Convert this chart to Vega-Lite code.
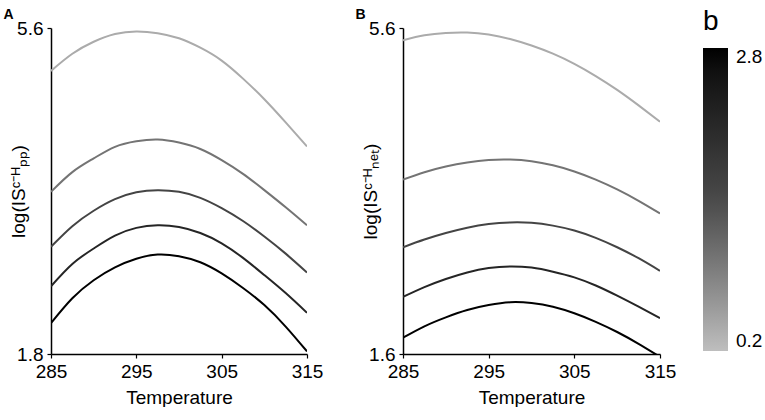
{
  "$schema": "https://vega.github.io/schema/vega-lite/v6.json",
  "padding": {"left": 3, "top": 8, "right": 0, "bottom": 0},
  "background": "white",
  "config": {
    "font": "Liberation Sans",
    "view": {"stroke": null},
    "axis": {
      "grid": false,
      "domainColor": "#000000",
      "domainWidth": 1.5,
      "tickColor": "#000000",
      "tickWidth": 1.2,
      "tickSize": 4,
      "labelFontSize": 19,
      "labelColor": "#000000",
      "labelPadding": 4,
      "labelFlush": false,
      "titleFontSize": 19,
      "titleFontWeight": "normal",
      "titleColor": "#000000"
    },
    "title": {"fontSize": 14, "fontWeight": "bold", "anchor": "start", "frame": "bounds", "color": "#000000", "offset": -3}
  },
  "datasets": {
    "pp": [
      {"T": 285, "v": 5.10, "b": 0.4}, {"T": 287.5, "v": 5.30, "b": 0.4}, {"T": 290, "v": 5.44, "b": 0.4}, {"T": 292.5, "v": 5.53, "b": 0.4},
      {"T": 295, "v": 5.56, "b": 0.4}, {"T": 297.5, "v": 5.54, "b": 0.4}, {"T": 300, "v": 5.48, "b": 0.4}, {"T": 302.5, "v": 5.37, "b": 0.4},
      {"T": 305, "v": 5.22, "b": 0.4}, {"T": 307.5, "v": 5.01, "b": 0.4}, {"T": 310, "v": 4.77, "b": 0.4}, {"T": 312.5, "v": 4.50, "b": 0.4},
      {"T": 315, "v": 4.22, "b": 0.4},
      {"T": 285, "v": 3.69, "b": 1.0}, {"T": 287.5, "v": 3.92, "b": 1.0}, {"T": 290, "v": 4.08, "b": 1.0}, {"T": 292.5, "v": 4.215, "b": 1.0},
      {"T": 295, "v": 4.28, "b": 1.0}, {"T": 297.5, "v": 4.30, "b": 1.0}, {"T": 300, "v": 4.265, "b": 1.0}, {"T": 302.5, "v": 4.19, "b": 1.0},
      {"T": 305, "v": 4.06, "b": 1.0}, {"T": 307.5, "v": 3.90, "b": 1.0}, {"T": 310, "v": 3.71, "b": 1.0}, {"T": 312.5, "v": 3.51, "b": 1.0},
      {"T": 315, "v": 3.30, "b": 1.0},
      {"T": 285, "v": 3.05, "b": 1.6}, {"T": 287.5, "v": 3.29, "b": 1.6}, {"T": 290, "v": 3.47, "b": 1.6}, {"T": 292.5, "v": 3.605, "b": 1.6},
      {"T": 295, "v": 3.685, "b": 1.6}, {"T": 297.5, "v": 3.71, "b": 1.6}, {"T": 300, "v": 3.69, "b": 1.6}, {"T": 302.5, "v": 3.62, "b": 1.6},
      {"T": 305, "v": 3.50, "b": 1.6}, {"T": 307.5, "v": 3.35, "b": 1.6}, {"T": 310, "v": 3.17, "b": 1.6}, {"T": 312.5, "v": 2.97, "b": 1.6},
      {"T": 315, "v": 2.75, "b": 1.6},
      {"T": 285, "v": 2.59, "b": 2.2}, {"T": 287.5, "v": 2.85, "b": 2.2}, {"T": 290, "v": 3.03, "b": 2.2}, {"T": 292.5, "v": 3.18, "b": 2.2},
      {"T": 295, "v": 3.27, "b": 2.2}, {"T": 297.5, "v": 3.30, "b": 2.2}, {"T": 300, "v": 3.28, "b": 2.2}, {"T": 302.5, "v": 3.21, "b": 2.2},
      {"T": 305, "v": 3.09, "b": 2.2}, {"T": 307.5, "v": 2.92, "b": 2.2}, {"T": 310, "v": 2.72, "b": 2.2}, {"T": 312.5, "v": 2.51, "b": 2.2},
      {"T": 315, "v": 2.28, "b": 2.2},
      {"T": 285, "v": 2.16, "b": 2.8}, {"T": 287.5, "v": 2.45, "b": 2.8}, {"T": 290, "v": 2.66, "b": 2.8}, {"T": 292.5, "v": 2.81, "b": 2.8},
      {"T": 295, "v": 2.91, "b": 2.8}, {"T": 297.5, "v": 2.96, "b": 2.8}, {"T": 300, "v": 2.94, "b": 2.8}, {"T": 302.5, "v": 2.87, "b": 2.8},
      {"T": 305, "v": 2.74, "b": 2.8}, {"T": 307.5, "v": 2.57, "b": 2.8}, {"T": 310, "v": 2.37, "b": 2.8}, {"T": 312.5, "v": 2.12, "b": 2.8},
      {"T": 315, "v": 1.83, "b": 2.8}
    ],
    "net": [
      {"T": 285, "v": 5.45, "b": 0.4}, {"T": 287.5, "v": 5.51, "b": 0.4}, {"T": 290, "v": 5.54, "b": 0.4}, {"T": 292.5, "v": 5.545, "b": 0.4},
      {"T": 295, "v": 5.52, "b": 0.4}, {"T": 297.5, "v": 5.465, "b": 0.4}, {"T": 300, "v": 5.385, "b": 0.4}, {"T": 302.5, "v": 5.285, "b": 0.4},
      {"T": 305, "v": 5.16, "b": 0.4}, {"T": 307.5, "v": 5.01, "b": 0.4}, {"T": 310, "v": 4.84, "b": 0.4}, {"T": 312.5, "v": 4.65, "b": 0.4},
      {"T": 315, "v": 4.45, "b": 0.4},
      {"T": 285, "v": 3.74, "b": 1.0}, {"T": 287.5, "v": 3.83, "b": 1.0}, {"T": 290, "v": 3.90, "b": 1.0}, {"T": 292.5, "v": 3.95, "b": 1.0},
      {"T": 295, "v": 3.98, "b": 1.0}, {"T": 297.5, "v": 3.985, "b": 1.0}, {"T": 300, "v": 3.965, "b": 1.0}, {"T": 302.5, "v": 3.915, "b": 1.0},
      {"T": 305, "v": 3.84, "b": 1.0}, {"T": 307.5, "v": 3.74, "b": 1.0}, {"T": 310, "v": 3.62, "b": 1.0}, {"T": 312.5, "v": 3.48, "b": 1.0},
      {"T": 315, "v": 3.325, "b": 1.0},
      {"T": 285, "v": 2.91, "b": 1.6}, {"T": 287.5, "v": 3.005, "b": 1.6}, {"T": 290, "v": 3.085, "b": 1.6}, {"T": 292.5, "v": 3.15, "b": 1.6},
      {"T": 295, "v": 3.195, "b": 1.6}, {"T": 297.5, "v": 3.215, "b": 1.6}, {"T": 300, "v": 3.21, "b": 1.6}, {"T": 302.5, "v": 3.175, "b": 1.6},
      {"T": 305, "v": 3.115, "b": 1.6}, {"T": 307.5, "v": 3.025, "b": 1.6}, {"T": 310, "v": 2.91, "b": 1.6}, {"T": 312.5, "v": 2.775, "b": 1.6},
      {"T": 315, "v": 2.62, "b": 1.6},
      {"T": 285, "v": 2.30, "b": 2.2}, {"T": 287.5, "v": 2.42, "b": 2.2}, {"T": 290, "v": 2.52, "b": 2.2}, {"T": 292.5, "v": 2.60, "b": 2.2},
      {"T": 295, "v": 2.655, "b": 2.2}, {"T": 297.5, "v": 2.675, "b": 2.2}, {"T": 300, "v": 2.66, "b": 2.2}, {"T": 302.5, "v": 2.61, "b": 2.2},
      {"T": 305, "v": 2.54, "b": 2.2}, {"T": 307.5, "v": 2.44, "b": 2.2}, {"T": 310, "v": 2.315, "b": 2.2}, {"T": 312.5, "v": 2.18, "b": 2.2},
      {"T": 315, "v": 2.04, "b": 2.2},
      {"T": 285, "v": 1.80, "b": 2.8}, {"T": 287.5, "v": 1.94, "b": 2.8}, {"T": 290, "v": 2.05, "b": 2.8}, {"T": 292.5, "v": 2.14, "b": 2.8},
      {"T": 295, "v": 2.20, "b": 2.8}, {"T": 297.5, "v": 2.235, "b": 2.8}, {"T": 300, "v": 2.225, "b": 2.8}, {"T": 302.5, "v": 2.18, "b": 2.8},
      {"T": 305, "v": 2.10, "b": 2.8}, {"T": 307.5, "v": 1.995, "b": 2.8}, {"T": 310, "v": 1.87, "b": 2.8}, {"T": 312.5, "v": 1.725, "b": 2.8},
      {"T": 315, "v": 1.565, "b": 2.8}
    ]
  },
  "hconcat": [
    {
      "title": {"text": "A", "dx": -6},
      "width": 256,
      "height": 326,
      "data": {"name": "pp"},
      "mark": {"type": "line", "interpolate": "natural", "strokeWidth": 2, "clip": true},
      "encoding": {
        "x": {"field": "T", "type": "quantitative", "scale": {"domain": [285, 315], "nice": false, "zero": false},
              "axis": {"values": [285, 295, 305, 315], "title": "Temperature", "titlePadding": 7}},
        "y": {"field": "v", "type": "quantitative", "scale": {"domain": [1.8, 5.6], "nice": false, "zero": false},
              "axis": {"values": [1.8, 5.6], "format": ".1f", "title": "log(IS\u1d9c\u207b\u1d34\u209a\u209a)", "titlePadding": -12}},
        "detail": {"field": "b"},
        "color": {"field": "b", "type": "quantitative",
                  "scale": {"domain": [0.2, 1.5, 2.8], "range": ["#bebebe", "#4a4a4a", "#000000"]},
                  "legend": {"title": "\u00a0b", "values": [0.2, 2.8], "orient": "none", "legendX": 652, "legendY": -20,
                             "direction": "vertical", "gradientLength": 303,
                             "gradientThickness": 25, "gradientStrokeWidth": 0, "titleFontSize": 28, "titleFontWeight": "normal",
                             "titleColor": "#000000", "titlePadding": 12, "labelFontSize": 19, "labelColor": "#000000",
                             "labelOffset": 8}}
      }
    },
    {
      "title": {"text": "B", "dx": -6},
      "width": 257,
      "height": 326,
      "data": {"name": "net"},
      "mark": {"type": "line", "interpolate": "natural", "strokeWidth": 2, "clip": true},
      "encoding": {
        "x": {"field": "T", "type": "quantitative", "scale": {"domain": [285, 315], "nice": false, "zero": false},
              "axis": {"values": [285, 295, 305, 315], "title": "Temperature", "titlePadding": 7}},
        "y": {"field": "v", "type": "quantitative", "scale": {"domain": [1.6, 5.6], "nice": false, "zero": false},
              "axis": {"values": [1.6, 5.6], "format": ".1f", "title": "log(IS\u1d9c\u207b\u1d34\u2099\u2091\u209c)", "titlePadding": -12}},
        "detail": {"field": "b"},
        "color": {"field": "b", "type": "quantitative"}
      }
    }
  ],
  "resolve": {"scale": {"color": "shared"}},
  "spacing": 32
}
